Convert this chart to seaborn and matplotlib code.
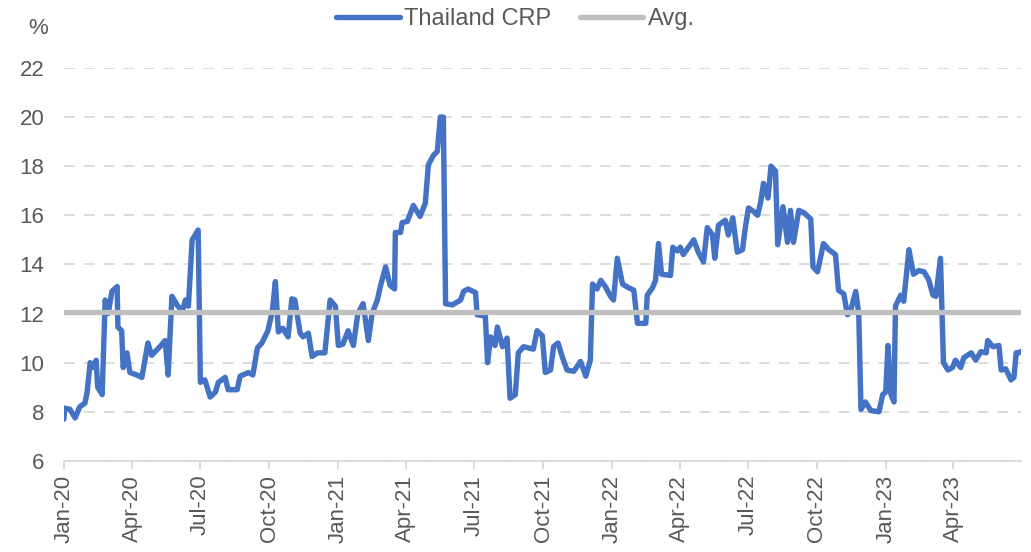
import matplotlib
matplotlib.use("Agg")
import matplotlib.pyplot as plt
import matplotlib.dates as mdates
import numpy as np
import pandas as pd
import seaborn as sns

# values
dates = [
    "2020-01-01", "2020-01-02", "2020-01-09", "2020-01-16", "2020-01-22", "2020-01-29",
    "2020-02-01", "2020-02-05", "2020-02-09", "2020-02-13", "2020-02-15", "2020-02-21",
    "2020-02-25", "2020-02-29", "2020-03-05", "2020-03-12", "2020-03-13", "2020-03-18",
    "2020-03-20", "2020-03-25", "2020-03-29", "2020-04-07", "2020-04-14", "2020-04-18",
    "2020-04-22", "2020-04-27", "2020-05-08", "2020-05-15", "2020-05-19", "2020-05-24",
    "2020-06-01", "2020-06-07", "2020-06-11", "2020-06-15", "2020-06-20", "2020-06-28",
    "2020-07-01", "2020-07-07", "2020-07-14", "2020-07-21", "2020-07-25", "2020-08-03",
    "2020-08-07", "2020-08-19", "2020-08-23", "2020-09-03", "2020-09-09", "2020-09-15",
    "2020-09-21", "2020-09-29", "2020-10-05", "2020-10-09", "2020-10-13", "2020-10-19",
    "2020-10-26", "2020-10-31", "2020-11-04", "2020-11-11", "2020-11-15", "2020-11-22",
    "2020-11-27", "2020-12-04", "2020-12-14", "2020-12-21", "2020-12-28", "2021-01-01",
    "2021-01-07", "2021-01-14", "2021-01-21", "2021-01-27", "2021-02-03", "2021-02-10",
    "2021-02-15", "2021-02-22", "2021-02-26", "2021-03-05", "2021-03-11", "2021-03-17",
    "2021-03-18", "2021-03-25", "2021-03-27", "2021-04-03", "2021-04-11", "2021-04-20",
    "2021-04-27", "2021-05-01", "2021-05-08", "2021-05-13", "2021-05-17", "2021-05-21",
    "2021-05-24", "2021-06-02", "2021-06-13", "2021-06-17", "2021-06-23", "2021-07-03",
    "2021-07-05", "2021-07-16", "2021-07-19", "2021-07-23", "2021-07-29", "2021-08-01",
    "2021-08-08", "2021-08-14", "2021-08-18", "2021-08-25", "2021-08-29", "2021-09-05",
    "2021-09-18", "2021-09-23", "2021-09-30", "2021-10-04", "2021-10-11", "2021-10-15",
    "2021-10-21", "2021-10-27", "2021-11-02", "2021-11-11", "2021-11-20", "2021-11-27",
    "2021-12-03", "2021-12-06", "2021-12-12", "2021-12-17", "2021-12-23", "2021-12-30",
    "2022-01-03", "2022-01-08", "2022-01-15", "2022-01-23", "2022-01-30", "2022-02-04",
    "2022-02-15", "2022-02-17", "2022-02-24", "2022-02-28", "2022-03-04", "2022-03-08",
    "2022-03-20", "2022-03-23", "2022-03-29", "2022-04-02", "2022-04-06", "2022-04-20",
    "2022-04-26", "2022-05-03", "2022-05-08", "2022-05-15", "2022-05-18", "2022-05-23",
    "2022-06-01", "2022-06-05", "2022-06-11", "2022-06-17", "2022-06-24", "2022-06-28",
    "2022-07-02", "2022-07-09", "2022-07-14", "2022-07-18", "2022-07-22", "2022-07-28",
    "2022-08-01", "2022-08-07", "2022-08-10", "2022-08-17", "2022-08-23", "2022-08-27",
    "2022-08-31", "2022-09-07", "2022-09-14", "2022-09-23", "2022-09-26", "2022-10-02",
    "2022-10-10", "2022-10-17", "2022-10-26", "2022-10-30", "2022-11-06", "2022-11-11",
    "2022-11-15", "2022-11-22", "2022-11-26", "2022-11-29", "2022-12-05", "2022-12-12",
    "2022-12-23", "2022-12-28", "2023-01-01", "2023-01-04", "2023-01-08", "2023-01-12",
    "2023-01-14", "2023-01-21", "2023-01-25", "2023-02-01", "2023-02-07", "2023-02-14",
    "2023-02-21", "2023-02-27", "2023-03-05", "2023-03-09", "2023-03-15", "2023-03-19",
    "2023-03-25", "2023-03-31", "2023-04-04", "2023-04-11", "2023-04-15", "2023-04-25",
    "2023-05-01", "2023-05-08", "2023-05-15", "2023-05-17", "2023-05-24", "2023-06-01",
    "2023-06-04", "2023-06-10", "2023-06-17", "2023-06-21", "2023-06-24", "2023-06-27",
    "2023-06-30",
]
crp = [
    7.7, 8.15, 8.1, 7.75, 8.2, 8.35,
    8.8, 10.0, 9.8, 10.1, 9.0, 8.7,
    12.55, 12.0, 12.9, 13.1, 11.45, 11.3,
    9.8, 10.4, 9.6, 9.5, 9.4, 10.1,
    10.8, 10.3, 10.65, 10.9, 9.5, 12.7,
    12.3, 12.1, 12.55, 12.3, 15.0, 15.4,
    9.2, 9.3, 8.6, 8.8, 9.2, 9.4,
    8.9, 8.9, 9.45, 9.6, 9.5, 10.6,
    10.8, 11.3, 12.1, 13.3, 11.25, 11.4,
    11.05, 12.6, 12.55, 11.2, 11.05, 11.2,
    10.25, 10.4, 10.4, 12.55, 12.3, 10.7,
    10.75, 11.3, 10.7, 12.0, 12.4, 10.9,
    12.0, 12.55, 13.1, 13.9, 13.15, 13.0,
    15.3, 15.3, 15.7, 15.75, 16.4, 15.95,
    16.5, 18.05, 18.45, 18.6, 20.0, 20.0,
    12.4, 12.35, 12.55, 12.9, 13.0, 12.85,
    11.95, 11.9, 10.0, 11.05, 10.7, 11.45,
    10.65, 11.0, 8.55, 8.7, 10.4, 10.65,
    10.55, 11.3, 11.1, 9.6, 9.7, 10.65,
    10.8, 10.2, 9.7, 9.65, 10.05, 9.45,
    10.1, 13.2, 13.0, 13.35, 13.1, 12.7,
    12.55, 14.25, 13.2, 13.05, 12.95, 11.6,
    11.6, 12.75, 13.05, 13.35, 14.85, 13.6,
    13.55, 14.7, 14.55, 14.7, 14.4, 15.0,
    14.5, 14.1, 15.5, 15.2, 14.25, 15.6,
    15.8, 15.2, 15.9, 14.5, 14.6, 15.55,
    16.3, 16.15, 16.0, 16.5, 17.3, 16.7,
    18.0, 17.8, 14.8, 16.35, 14.9, 16.2,
    14.9, 16.2, 16.1, 15.85, 13.9, 13.7,
    14.85, 14.6, 14.4, 12.95, 12.8, 11.95,
    12.1, 12.9, 12.0, 8.1, 8.4, 8.05,
    8.0, 8.7, 8.8, 10.7, 8.7, 8.4,
    12.3, 12.75, 12.5, 14.6, 13.6, 13.75,
    13.7, 13.4, 12.75, 12.7, 14.25, 10.0,
    9.7, 9.8, 10.1, 9.8, 10.2, 10.4,
    10.1, 10.45, 10.4, 10.9, 10.65, 10.7,
    9.7, 9.75, 9.3, 9.4, 10.4, 10.4,
    10.45,
]
avg = 12.05
y_ticks = [6, 8, 10, 12, 14, 16, 18, 20, 22]

df = pd.DataFrame({"date": pd.to_datetime(dates), "crp": crp})

sns.set_theme(style="white")
plt.rcParams["font.family"] = ["Liberation Sans", "DejaVu Sans"]
text_color = "#595959"

fig = plt.figure(figsize=(10.31, 5.52), dpi=100)
ax = fig.add_axes([0.062, 0.165, 0.928, 0.712])

sns.lineplot(data=df, x="date", y="crp", ax=ax, color="#4472C4", linewidth=3.9,
             label="Thailand CRP", zorder=3, solid_joinstyle="round", solid_capstyle="round")
ax.axhline(avg, color="#BFBFBF", linewidth=3.8, label="Avg.", zorder=4)

ax.set_ylim(6, 22)
ax.set_yticks(y_ticks)
ax.set_xlim(pd.Timestamp("2020-01-01"), pd.Timestamp("2023-06-30"))
ax.xaxis.set_major_locator(mdates.MonthLocator(bymonth=[1, 4, 7, 10]))
ax.xaxis.set_major_formatter(mdates.DateFormatter("%b-%y"))
plt.setp(ax.get_xticklabels(), rotation=90)

ax.yaxis.grid(True, color="#D9D9D9", linewidth=1.3, linestyle=(0, (6, 5)))
ax.set_axisbelow(True)
for side in ["left", "right", "top"]:
    ax.spines[side].set_visible(False)
ax.spines["bottom"].set_color("#D9D9D9")
ax.spines["bottom"].set_linewidth(1.3)

ax.tick_params(axis="x", bottom=True, length=6, width=1.3, color="#D9D9D9",
               labelsize=16, labelcolor=text_color, pad=4)
ax.tick_params(axis="y", left=False, labelsize=16, labelcolor=text_color, pad=8)
ax.set_xlabel("")
ax.set_ylabel("")

fig.text(0.037, 0.948, "%", fontsize=16, color=text_color, ha="center", va="center")

leg = ax.legend(loc="upper center", bbox_to_anchor=(0.5, 0.99), bbox_transform=fig.transFigure,
                ncol=2, frameon=False, fontsize=17, handlelength=2.7, handletextpad=0.2,
                columnspacing=1.2, borderaxespad=0.0, borderpad=0.1,
                labelcolor=text_color)
for line in leg.get_lines():
    line.set_solid_capstyle("round")

fig.savefig("out.png", dpi=100)
